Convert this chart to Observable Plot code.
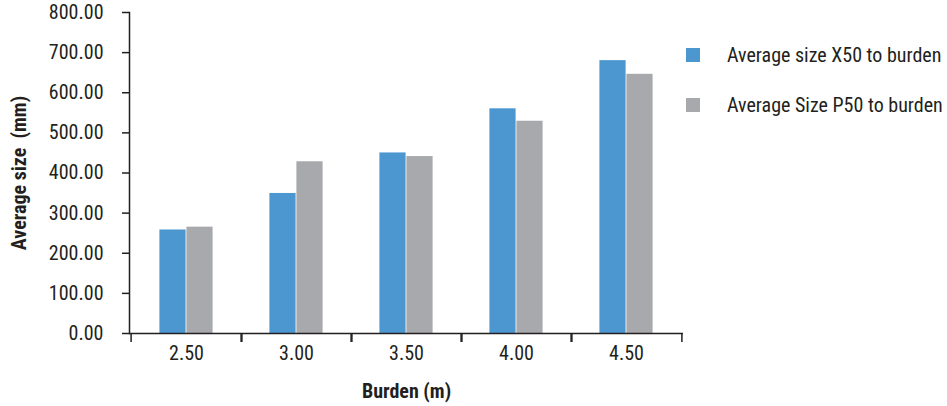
<!DOCTYPE html>
<html>
<head>
<meta charset="utf-8">
<script src="https://cdn.jsdelivr.net/npm/d3@7"></script>
<script src="https://cdn.jsdelivr.net/npm/@observablehq/plot@0.6"></script>
<style>
  html, body { margin: 0; padding: 0; background: #fff; }
  #wrap { position: relative; width: 947px; height: 406px; font-family: "Roboto Condensed", "Liberation Sans Narrow", "DejaVu Sans Condensed", sans-serif; font-stretch: condensed; color: #231f20; }
  #wrap svg { font-family: "Roboto Condensed", "Liberation Sans Narrow", "DejaVu Sans Condensed", sans-serif; font-stretch: condensed; }
  g[aria-label="y-axis label"] text, g[aria-label="x-axis label"] text { font-weight: bold; }
  #legend { position: absolute; left: 686px; top: 45px; font-size: 20px; }
  .item { display: flex; align-items: center; height: 20px; margin-bottom: 30px; white-space: nowrap; }
  .sw { width: 14px; height: 14px; margin-right: 27px; }
</style>
</head>
<body>
<div id="wrap"></div>
<script>
const burden = ["2.50", "3.00", "3.50", "4.00", "4.50"];
const seriesNames = ["Average size X50 to burden", "Average Size P50 to burden"];
const x50 = [258, 349, 450, 560, 680];
const p50 = [265, 428, 441, 529, 646];
const colors = ["#4d97d1", "#a8a9ad"];
const yTicks = [0, 100, 200, 300, 400, 500, 600, 700, 800];

const data = burden.flatMap((b, i) => [
  {burden: b, series: seriesNames[0], value: x50[i]},
  {burden: b, series: seriesNames[1], value: p50[i]}
]);

const W = 947, H = 406;
const mL = 129, mR = 264, mT = 12, mB = 73;
const band = (W - mL - mR) / burden.length;
const half = band / 2;
const barW = 27;
const ink = "#231f20";

const chart = Plot.plot({
  width: W, height: H,
  marginLeft: mL, marginRight: mR, marginTop: mT, marginBottom: mB,
  style: {fontSize: "20px", color: ink, background: "#fff"},
  x: {domain: burden, paddingInner: 0, paddingOuter: 0},
  y: {domain: [0, 800]},
  color: {domain: seriesNames, range: colors},
  marks: [
    Plot.barY(data.filter(d => d.series === seriesNames[0]), {x: "burden", y: "value", fill: "series", insetLeft: half - barW, insetRight: half}),
    Plot.barY(data.filter(d => d.series === seriesNames[1]), {x: "burden", y: "value", fill: "series", insetLeft: half, insetRight: half - barW}),
    Plot.axisY({ticks: yTicks, tickFormat: d3.format(".2f"), tickSize: 7, tickPadding: 19, stroke: ink, strokeWidth: 1.5, strokeOpacity: 1,
      label: "Average size  (mm)", labelArrow: "none", labelAnchor: "center", labelOffset: 118}),
    Plot.axisX({tickSize: 0, tickPadding: 12, label: "Burden (m)", labelArrow: "none", labelAnchor: "center", labelOffset: 64}),
    Plot.axisX({tickSize: 9, tickFormat: () => "", dx: -half, stroke: ink, strokeWidth: 1.5, label: null}),
    Plot.axisX({tickSize: 9, tickFormat: () => "", dx: half, stroke: ink, strokeWidth: 1.5, label: null}),
    Plot.frame({anchor: "left", stroke: ink, strokeWidth: 1.5}),
    Plot.ruleY([0], {stroke: ink, strokeWidth: 1.5})
  ]
});

const wrap = document.getElementById("wrap");
wrap.appendChild(chart);

const legend = document.createElement("div");
legend.id = "legend";
seriesNames.forEach((s, i) => {
  const it = document.createElement("div");
  it.className = "item";
  const sw = document.createElement("div");
  sw.className = "sw";
  sw.style.background = colors[i];
  const t = document.createElement("span");
  t.textContent = s;
  it.appendChild(sw); it.appendChild(t);
  legend.appendChild(it);
});
wrap.appendChild(legend);
</script>
</body>
</html>
